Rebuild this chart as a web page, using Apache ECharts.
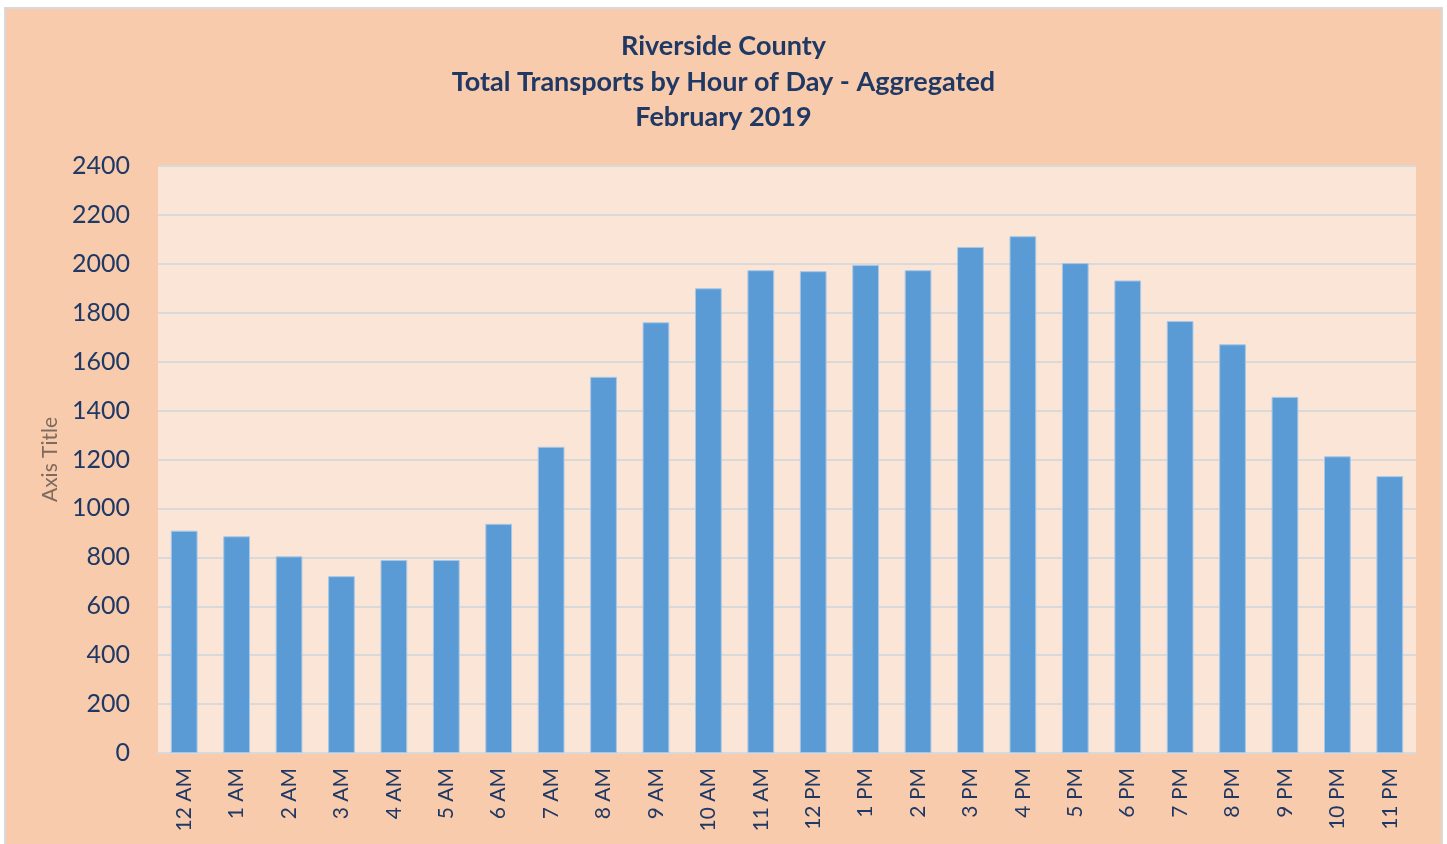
<!DOCTYPE html>
<html>
<head>
<meta charset="utf-8">
<script src="https://cdn.jsdelivr.net/npm/echarts@6/dist/echarts.min.js"></script>
<style>
  html, body { margin: 0; padding: 0; background: #ffffff; width: 1447px; height: 844px; overflow: hidden; }
  #wrap { position: absolute; left: 4px; top: 7px; width: 1435px; height: 835px; border: 2px solid #D9D9D9; background: #F8CBAD; }
  #chart { width: 1435px; height: 835px; }
</style>
</head>
<body>
<div id="wrap"><div id="chart"></div></div>
<script>
const titleLines = ['Riverside County', 'Total Transports by Hour of Day - Aggregated', 'February 2019'];
const categories = ['12 AM','1 AM','2 AM','3 AM','4 AM','5 AM','6 AM','7 AM','8 AM','9 AM','10 AM','11 AM',
                    '12 PM','1 PM','2 PM','3 PM','4 PM','5 PM','6 PM','7 PM','8 PM','9 PM','10 PM','11 PM'];
const transports = [909, 886, 804, 723, 789, 789, 937, 1252, 1538, 1761, 1900, 1974,
                    1970, 1995, 1974, 2069, 2113, 2003, 1932, 1766, 1671, 1456, 1213, 1132];
const yAxisName = 'Axis Title';
const yMin = 0, yMax = 2400, yStep = 200;

const chart = echarts.init(document.getElementById('chart'), null, { renderer: 'canvas' });
chart.setOption({
  backgroundColor: '#F8CBAD',
  animation: false,
  title: {
    text: titleLines.join('\n'),
    left: 'center',
    top: 15,
    textStyle: { fontFamily: 'Lato', fontWeight: 'bold', fontSize: 27, color: '#1F3864', lineHeight: 35.5 }
  },
  grid: {
    left: 152, top: 157, right: 25, bottom: 91,
    show: true, backgroundColor: '#FBE5D6', borderWidth: 0
  },
  xAxis: {
    type: 'category',
    data: categories,
    axisLine: { show: true, lineStyle: { color: '#D9D9D9', width: 2 } },
    axisTick: { show: false },
    axisLabel: { rotate: 90, margin: 15, fontFamily: 'Lato', fontSize: 21, color: '#1F3864' }
  },
  yAxis: {
    type: 'value',
    min: yMin, max: yMax, interval: yStep,
    name: yAxisName,
    nameLocation: 'middle',
    nameGap: 93,
    nameRotate: 90,
    nameTextStyle: { fontFamily: 'Lato', fontSize: 21, color: '#7F6A5E' },
    axisLine: { show: false },
    axisTick: { show: false },
    axisLabel: { margin: 28, fontFamily: 'Lato', fontSize: 25, color: '#1F3864', formatter: function (v) { return String(v); } },
    splitLine: { show: true, lineStyle: { color: '#D9D9D9', width: 2 } }
  },
  series: [{
    type: 'bar',
    data: transports,
    barWidth: '51%',
    itemStyle: { color: '#5B9BD5', borderColor: '#A7C7E7', borderWidth: 1 }
  }]
});
</script>
</body>
</html>
